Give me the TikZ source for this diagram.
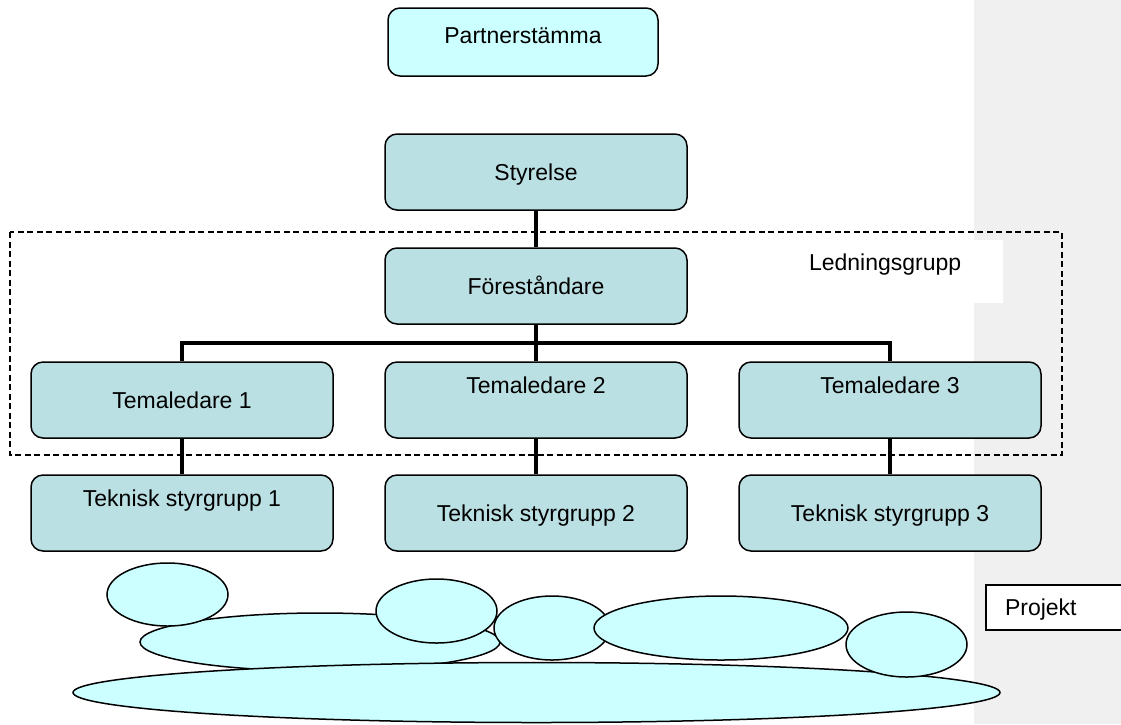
\documentclass[tikz,border=0pt]{standalone}
\usepackage{fontspec}
\setmainfont{Liberation Sans}
\usepackage{tikz}
\usetikzlibrary{positioning}
\usepackage{xcolor}
\definecolor{boxfill}{HTML}{BBE0E3}
\definecolor{topfill}{HTML}{CCFFFF}
\definecolor{margin}{HTML}{F0F0F0}

\begin{document}
\begin{tikzpicture}[
    x=1pt, y=-1pt,
    node distance=354pt,
    every node/.style={font=\fontsize{23pt}{27pt}\selectfont, text height=16pt, text depth=0pt, inner sep=0pt},
    box/.style={draw, rounded corners=12pt, fill=boxfill, line width=1.5pt, minimum width=302pt, minimum height=76pt},
    raised/.style={text depth=30pt},
    link/.style={line width=4.8pt},
    group/.style={dash pattern=on 6pt off 3.5pt, line width=1.3pt},
    blob/.style={draw, fill=topfill, line width=1.5pt}
]

\useasboundingbox (0,0) rectangle (1121,724);
\fill[margin] (974,0) rectangle (1121,724);

% Nodes
\node[box, fill=topfill, minimum width=270pt, minimum height=68pt, text depth=14pt] (partner) at (523,42) {Partnerstämma};
\node[box] (styrelse) at (536,172) {Styrelse};
\node[box] (forest) at (536,286) {Föreståndare};
\node[fill=white, minimum width=213pt, minimum height=63pt, text width=175pt, inner xsep=19pt, align=left, text depth=19pt] (ledning) at (896.5,271.5) {Ledningsgrupp};

\node[box] (tema1) at (182,400) {Temaledare 1};
\node[box, raised, right of=tema1] (tema2) {Temaledare 2};
\node[box, raised, right of=tema2] (tema3) {Temaledare 3};

\node[box, raised, below of=tema1, node distance=113pt] (tek1) {Teknisk styrgrupp 1};
\node[box, below of=tema2, node distance=113pt] (tek2) {Teknisk styrgrupp 2};
\node[box, below of=tema3, node distance=113pt] (tek3) {Teknisk styrgrupp 3};

% Ledningsgrupp
\draw[group] (10,232) rectangle (1062,455);

% Connections
\coordinate (bus) at (536,343);
\draw[link] (styrelse) -- (forest);
\draw[link] (forest) -- (bus);
\draw[link] (bus) -| (tema1);
\draw[link] (bus) -- (tema2);
\draw[link] (bus) -| (tema3);
\draw[link] (tema1) -- (tek1);
\draw[link] (tema2) -- (tek2);
\draw[link] (tema3) -- (tek3);

% Projects
\filldraw[blob] (320,642) ellipse [x radius=180pt, y radius=29pt];
\filldraw[blob] (536.5,692.5) ellipse [x radius=463.5pt, y radius=30pt];
\filldraw[blob] (167.5,594.5) ellipse [x radius=60.5pt, y radius=31.5pt];
\filldraw[blob] (436.5,611) ellipse [x radius=60.5pt, y radius=32pt];
\filldraw[blob] (552,628) ellipse [x radius=58pt, y radius=32pt];
\filldraw[blob] (721,628) ellipse [x radius=127pt, y radius=32pt];
\filldraw[blob] (906.5,644.5) ellipse [x radius=60.5pt, y radius=32.5pt];

\node[draw, fill=white, line width=1.5pt, minimum height=45pt, text width=100pt, inner xsep=19pt, align=left] (projekt) at (1055,607.5) {Projekt};

\end{tikzpicture}
\end{document}
